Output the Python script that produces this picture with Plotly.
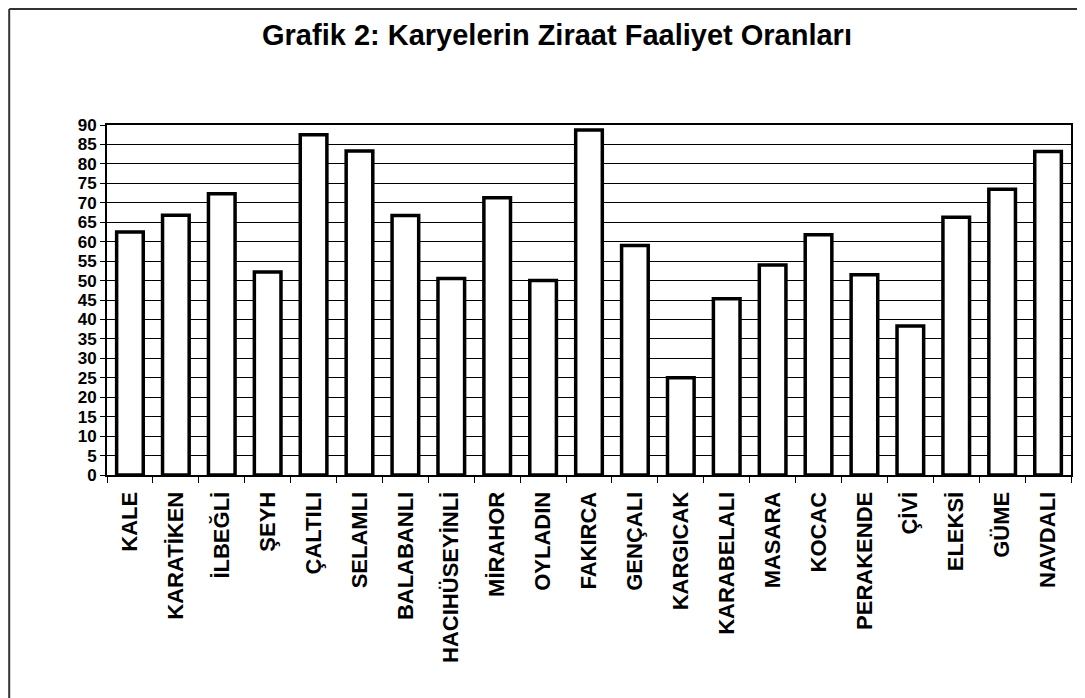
import plotly.graph_objects as go

categories = ["KALE", "KARATİKEN", "İLBEĞLİ", "ŞEYH", "ÇALTILI", "SELAMLI", "BALABANLI",
              "HACIHÜSEYİNLİ", "MİRAHOR", "OYLADIN", "FAKIRCA", "GENÇALI", "KARGICAK",
              "KARABELALI", "MASARA", "KOCAC", "PERAKENDE", "ÇİVİ", "ELEKSİ", "GÜME", "NAVDALI"]
values = [62.5, 66.8, 72.3, 52.2, 87.5, 83.3, 66.7,
          50.5, 71.3, 50.0, 88.7, 59.0, 25.0,
          45.3, 54.0, 61.8, 51.5, 38.3, 66.3, 73.5, 83.2]
y_ticks = list(range(0, 91, 5))
title_text = "Grafik 2: Karyelerin Ziraat Faaliyet Oranları"

# page has an 8px body margin; figure coordinates are page coordinates minus 8
OFF = 8
W, H = 1085 - OFF, 698 - OFF
L = 107 - OFF
T = 125 - OFF
R = W - (1073 - OFF)
B = H - (475 - OFF)

pw = W - L - R
ph = H - T - B
def px_x(p):
    return (p - OFF - L) / pw
def px_y(p):
    return (H - B - (p - OFF)) / ph

fig = go.Figure()
fig.add_trace(go.Bar(
    x=categories, y=values,
    marker=dict(color="white", line=dict(color="black", width=3.5)),
    width=0.58,
))

fig.update_layout(
    width=W, height=H,
    margin=dict(l=L, r=R, t=T, b=B),
    paper_bgcolor="white", plot_bgcolor="white",
    showlegend=False,
    title=dict(text=title_text, x=(557 - OFF) / W, xanchor="center", y=1 - (35 - OFF) / H, yanchor="middle",
               font=dict(family="Liberation Sans, Arial", size=29, color="black", weight="bold")),
    font=dict(family="Liberation Sans, Arial", color="black"),
    xaxis=dict(
        type="category", tickangle=-90, tickson="boundaries",
        ticks="outside", ticklen=6, tickcolor="black", tickwidth=1,
        showline=True, linecolor="black", linewidth=2, mirror=True,
        showgrid=False, ticklabelstandoff=6,
        tickfont=dict(size=22, color="black", weight="bold"),
    ),
    yaxis=dict(
        range=[0, 90], tickvals=y_ticks, ticktext=[str(v) for v in y_ticks],
        ticks="outside", ticklen=5, tickcolor="black",
        showline=True, linecolor="black", linewidth=2, mirror=True,
        showgrid=True, gridcolor="black", gridwidth=1,
        tickfont=dict(size=17, color="black", weight="bold"),
        zeroline=False,
    ),
    shapes=[
        dict(type="line", xref="paper", yref="paper", x0=px_x(9), x1=px_x(1085), y0=px_y(9), y1=px_y(9),
             line=dict(color="#333333", width=2)),
        dict(type="line", xref="paper", yref="paper", x0=px_x(9), x1=px_x(9), y0=px_y(9), y1=px_y(698),
             line=dict(color="#333333", width=2)),
    ],
)

fig.write_html("out.html")
